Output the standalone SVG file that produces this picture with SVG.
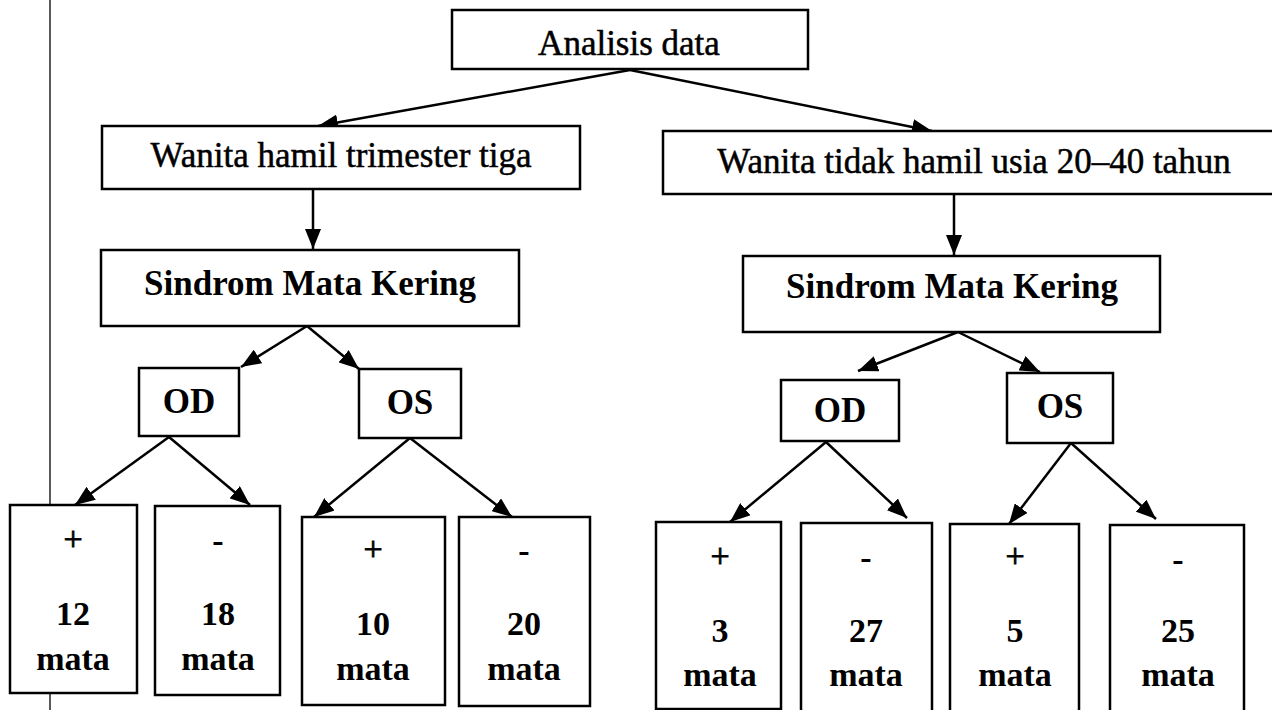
<svg xmlns="http://www.w3.org/2000/svg" width="1272" height="710" viewBox="0 0 1272 710">
<style>
.box{fill:#fff;stroke:#000;stroke-width:2.5}
.t{font-family:"Liberation Serif","Times New Roman",serif;font-size:35px;fill:#000;stroke:#000;stroke-width:0.5;text-anchor:middle}
.b{font-family:"Liberation Serif","Times New Roman",serif;font-size:35px;font-weight:bold;fill:#000;text-anchor:middle}
.lf{font-family:"Liberation Serif","Times New Roman",serif;font-size:34px;font-weight:bold;fill:#000;text-anchor:middle}
.pl{font-family:"Liberation Serif","Times New Roman",serif;font-size:34px;fill:#000;stroke:#000;stroke-width:0.8;text-anchor:middle}
.c{stroke:#000;stroke-width:2.5;fill:none;marker-end:url(#ah)}
</style>
<defs>
<marker id="ah" markerUnits="userSpaceOnUse" markerWidth="20" markerHeight="16" viewBox="0 0 20 16" refX="20" refY="8" orient="auto">
<path d="M0,0 L20,8 L0,16 Z" fill="#000"/>
</marker>
</defs>
<rect width="1272" height="710" fill="#fff"/>
<line x1="50" y1="0" x2="50" y2="710" stroke="#222" stroke-width="1.5"/>

<g id="connectors">
<line class="c" x1="630" y1="70" x2="318" y2="126"/>
<line class="c" x1="630" y1="70" x2="932" y2="131"/>
<line class="c" x1="313" y1="189" x2="313" y2="249"/>
<line class="c" x1="307" y1="326" x2="241" y2="367"/>
<line class="c" x1="307" y1="326" x2="359" y2="369"/>
<line class="c" x1="169" y1="437" x2="75" y2="505"/>
<line class="c" x1="169" y1="437" x2="250" y2="505"/>
<line class="c" x1="410" y1="438" x2="314" y2="517"/>
<line class="c" x1="410" y1="438" x2="512" y2="517"/>
<line class="c" x1="954" y1="194" x2="954" y2="255"/>
<line class="c" x1="958" y1="332" x2="858" y2="371"/>
<line class="c" x1="958" y1="332" x2="1040" y2="372"/>
<line class="c" x1="826" y1="442" x2="730" y2="522"/>
<line class="c" x1="826" y1="442" x2="907" y2="518"/>
<line class="c" x1="1071" y1="443" x2="1009" y2="524"/>
<line class="c" x1="1071" y1="443" x2="1156" y2="519"/>
</g>

<g id="analisis"><rect class="box" x="452" y="10" width="356" height="59"/><text class="t" x="629" y="55">Analisis data</text></g>
<g id="hamil"><rect class="box" x="102" y="126" width="478" height="63"/><text class="t" x="341" y="167">Wanita hamil trimester tiga</text></g>
<g id="tidakhamil"><rect class="box" x="663" y="131" width="630" height="63"/><text class="t" x="974" y="173">Wanita tidak hamil usia 20–40 tahun</text></g>
<g id="smk-left"><rect class="box" x="101" y="250" width="418" height="76"/><text class="b" x="310" y="295">Sindrom Mata Kering</text></g>
<g id="smk-right"><rect class="box" x="743" y="256" width="417" height="76"/><text class="b" x="952" y="298">Sindrom Mata Kering</text></g>
<g id="od-left"><rect class="box" x="139" y="368" width="100" height="68"/><text class="b" x="189" y="413">OD</text></g>
<g id="os-left"><rect class="box" x="359" y="369" width="102" height="69"/><text class="b" x="410" y="414">OS</text></g>
<g id="od-right"><rect class="box" x="781" y="380" width="118" height="61"/><text class="b" x="840" y="422">OD</text></g>
<g id="os-right"><rect class="box" x="1007" y="373" width="106" height="70"/><text class="b" x="1060" y="418">OS</text></g>

<g id="l1"><rect class="box" x="10" y="505" width="127" height="188"/><text class="pl" x="73" y="550">+</text><text class="lf" x="73" y="625">12</text><text class="lf" x="73" y="670">mata</text></g>
<g id="l2"><rect class="box" x="155" y="506" width="125" height="189"/><text class="lf" x="218" y="552">-</text><text class="lf" x="218" y="625">18</text><text class="lf" x="218" y="670">mata</text></g>
<g id="l3"><rect class="box" x="302" y="517" width="143" height="188"/><text class="pl" x="373" y="560">+</text><text class="lf" x="373" y="635">10</text><text class="lf" x="373" y="680">mata</text></g>
<g id="l4"><rect class="box" x="459" y="517" width="131" height="189"/><text class="lf" x="524" y="562">-</text><text class="lf" x="524" y="635">20</text><text class="lf" x="524" y="680">mata</text></g>

<g id="r1"><rect class="box" x="656" y="522" width="125" height="187"/><text class="pl" x="720" y="567">+</text><text class="lf" x="720" y="642">3</text><text class="lf" x="720" y="686">mata</text></g>
<g id="r2"><rect class="box" x="801" y="523" width="131" height="192"/><text class="lf" x="866" y="569">-</text><text class="lf" x="866" y="642">27</text><text class="lf" x="866" y="686">mata</text></g>
<g id="r3"><rect class="box" x="950" y="524" width="129" height="192"/><text class="pl" x="1015" y="567">+</text><text class="lf" x="1015" y="642">5</text><text class="lf" x="1015" y="686">mata</text></g>
<g id="r4"><rect class="box" x="1110" y="525" width="134" height="192"/><text class="lf" x="1178" y="571">-</text><text class="lf" x="1178" y="642">25</text><text class="lf" x="1178" y="686">mata</text></g>
</svg>
